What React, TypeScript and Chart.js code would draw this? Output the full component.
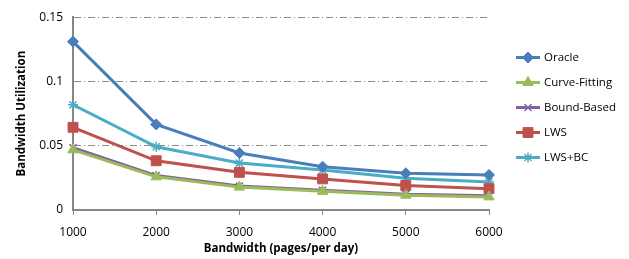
import React, { useEffect, useRef } from "react";
import { Chart, registerables } from "chart.js";
import { drawPoint } from "chart.js/helpers";

Chart.register(...registerables);

const categories = ["1000", "2000", "3000", "4000", "5000", "6000"];
const oracle = [0.131, 0.0666, 0.0444, 0.0337, 0.0286, 0.0273];
const curveFitting = [0.0468, 0.0258, 0.0178, 0.0145, 0.0115, 0.0102];
const boundBased = [0.0485, 0.0268, 0.0186, 0.0153, 0.0122, 0.011];
const lws = [0.0643, 0.0383, 0.0293, 0.0242, 0.0191, 0.0166];
const lwsBc = [0.0819, 0.0492, 0.0365, 0.0311, 0.0247, 0.0217];
const yTicks = [0, 0.05, 0.1, 0.15];

const FONT = "'Open Sans', sans-serif";

function drawMarker(ctx: any, ds: any, x: number, y: number) {
  ctx.save();
  ctx.fillStyle = ds.pointBackgroundColor;
  ctx.strokeStyle = ds.pointBorderColor;
  ctx.lineWidth = ds.pointBorderWidth;
  drawPoint(ctx, { pointStyle: ds.pointStyle, radius: ds.pointRadius, rotation: 0, borderWidth: ds.pointBorderWidth } as any, x, y);
  ctx.restore();
}

const legendPlugin = {
  id: "excelLegend",
  afterDraw(chart: any) {
    const ctx = chart.ctx;
    const x0 = 516;
    const y0 = 57.5;
    const step = 25;
    chart.data.datasets.forEach((ds: any, i: number) => {
      const y = y0 + i * step;
      ctx.save();
      ctx.strokeStyle = ds.borderColor;
      ctx.lineWidth = 3;
      ctx.beginPath();
      ctx.moveTo(x0, y);
      ctx.lineTo(x0 + 24, y);
      ctx.stroke();
      ctx.restore();
      drawMarker(ctx, ds, x0 + 12, y);
      ctx.save();
      ctx.fillStyle = "#000";
      ctx.font = `11.5px ${FONT}`;
      ctx.textBaseline = "middle";
      ctx.textAlign = "left";
      ctx.fillText(ds.label, x0 + 28, y);
      ctx.restore();
    });
  },
};

function mk(label: string, data: number[], color: string, style: string, radius: number, bw: number) {
  return {
    label,
    data,
    borderColor: color,
    backgroundColor: color,
    pointBackgroundColor: color,
    pointBorderColor: color,
    pointStyle: style,
    pointRadius: radius,
    pointBorderWidth: bw,
    borderWidth: 3,
    tension: 0,
  };
}

export default function App() {
  const ref = useRef<HTMLCanvasElement>(null);
  useEffect(() => {
    const chart = new Chart(ref.current!, {
      type: "line",
      data: {
        labels: categories,
        datasets: [
          mk("Oracle", oracle, "#4A7EBB", "rectRot", 5.5, 1),
          mk("Curve-Fitting", curveFitting, "#9BBB59", "triangle", 6, 1),
          mk("Bound-Based", boundBased, "#8064A2", "crossRot", 5, 1.5),
          mk("LWS", lws, "#C0504D", "rect", 7, 1),
          mk("LWS+BC", lwsBc, "#4BACC6", "star", 5, 1.5),
        ],
      },
      options: {
        animation: false,
        responsive: false,
        layout: { padding: { top: 14, right: 140, left: 0, bottom: 0 } },
        plugins: { legend: { display: false }, tooltip: { enabled: false } },
        scales: {
          x: {
            offset: false,
            afterFit: (s: any) => { s.height = 49; },
            grid: { drawOnChartArea: false, drawTicks: true, tickLength: 5, color: "#868686", lineWidth: 1 },
            border: { display: true, color: "#868686", width: 2 },
            ticks: { color: "#000", font: { family: FONT, size: 12 }, padding: 10, maxRotation: 0 },
            title: { display: true, text: "Bandwidth (pages/per day)", color: "#000", font: { family: FONT, size: 11.5, weight: "bold" }, padding: { top: 0, bottom: 3 } },
          },
          y: {
            min: 0,
            max: 0.15,
            afterFit: (s: any) => { s.width = 73; },
            afterBuildTicks: (s: any) => { s.ticks = yTicks.map((v) => ({ value: v })); },
            grid: {
              drawTicks: false,
              color: (c: any) => (c.tick && c.tick.value === 0 ? "rgba(0,0,0,0)" : "#8c8c8c"),
              lineWidth: 1,
            },
            border: { display: true, color: "#868686", width: 2, dash: [7, 3, 1, 3] },
            ticks: { color: "#000", font: { family: FONT, size: 12 }, padding: 10, callback: (v: any) => String(v) },
            title: { display: true, text: "Bandwidth Utilization", color: "#000", font: { family: FONT, size: 11.5, weight: "bold" }, padding: { top: 15, bottom: 0 } },
          },
        },
      },
      plugins: [legendPlugin],
    } as any);
    return () => chart.destroy();
  }, []);
  return (
    <div style={{ position: "absolute", left: 0, top: 0, width: 629, height: 259, background: "#fff" }}>
      <canvas ref={ref} width={629} height={259} style={{ width: 629, height: 259 }} />
    </div>
  );
}
